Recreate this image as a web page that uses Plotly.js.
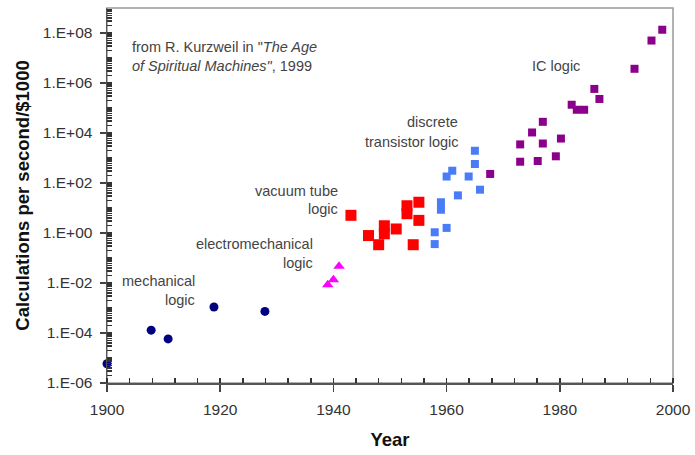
<!DOCTYPE html>
<html>
<head>
<meta charset="utf-8">
<script src="https://cdn.plot.ly/plotly-3.0.1.min.js"></script>
<style>html,body{margin:0;padding:0;background:#fff}#chart{width:695px;height:455px}</style>
</head>
<body>
<div id="chart"></div>
<script>
// ---- data ----
const mechYears = [1900.0, 1907.8, 1910.8, 1918.9, 1927.9];
const mechValues = [5.9e-6, 1.3e-4, 5.8e-5, 1.1e-3, 7.3e-4];

const emYears = [1939.0, 1940.0, 1941.0];
const emValues = [0.0085, 0.0135, 0.047];

const tubeYears = [1943.1, 1946.2, 1948.0, 1949.0, 1949.0, 1951.1, 1953.0, 1953.0, 1955.1, 1955.1, 1954.1];
const tubeValues = [5.1, 0.79, 0.34, 1.95, 0.93, 1.45, 12.3, 5.9, 17, 3.2, 0.34];

const transYears = [1957.9, 1957.9, 1959.0, 1959.0, 1960.0, 1960.0, 1961.0, 1962.0, 1963.9, 1965.0, 1965.0, 1965.9];
const transValues = [1.07, 0.36, 17, 8.5, 1.6, 182, 310, 32, 182, 1950, 575, 54];

const icYears = [1967.7, 1973.0, 1973.0, 1975.1, 1976.1, 1977.0, 1977.0, 1979.3, 1980.2, 1982.1, 1983.0, 1984.3, 1986.1, 1987.0, 1993.2, 1996.2, 1998.1];
const icValues = [230, 710, 3500, 10500, 760, 28000, 3800, 1170, 6000, 135000, 85000, 85000, 580000, 230000, 3.7e6, 5.0e7, 1.35e8];

const yTickVals = [1e-6, 1e-4, 1e-2, 1, 1e2, 1e4, 1e6, 1e8];
const yTickText = ['1.E-06', '1.E-04', '1.E-02', '1.E+00', '1.E+02', '1.E+04', '1.E+06', '1.E+08'];

// label texts: [text, year, log10 value, anchor]
const labels = [
  ['from R. Kurzweil in "<i>The Age</i>', 1904.1, 7.45, 'left'],
  ['<i>of Spiritual Machines"</i>, 1999', 1904.1, 6.69, 'left'],
  ['IC logic', 1974.7, 6.69, 'left'],
  ['discrete', 1962.4, 4.45, 'right'],
  ['transistor logic', 1962.4, 3.65, 'right'],
  ['vacuum tube', 1941.2, 1.69, 'right'],
  ['logic', 1941.2, 0.97, 'right'],
  ['electromechanical', 1936.8, -0.43, 'right'],
  ['logic', 1936.8, -1.19, 'right'],
  ['mechanical', 1915.9, -1.91, 'right'],
  ['logic', 1915.9, -2.67, 'right']
];

const FONT = 'Arial, "Liberation Sans", sans-serif';

const traces = [
  {x: mechYears, y: mechValues, mode: 'markers', type: 'scatter', cliponaxis: false,
   marker: {symbol: 'circle', size: 9, color: '#000080'}},
  {x: emYears, y: emValues, mode: 'markers', type: 'scatter', cliponaxis: false,
   marker: {symbol: 'triangle-up', size: 10, color: '#FF00FF'}},
  {x: tubeYears, y: tubeValues, mode: 'markers', type: 'scatter', cliponaxis: false,
   marker: {symbol: 'square', size: 11, color: '#FF0000'}},
  {x: transYears, y: transValues, mode: 'markers', type: 'scatter', cliponaxis: false,
   marker: {symbol: 'square', size: 8, color: '#4A7CF7'}},
  {x: icYears, y: icValues, mode: 'markers', type: 'scatter', cliponaxis: false,
   marker: {symbol: 'square', size: 8, color: '#8B008B'}},
  // empty trace that carries the overlay axes used only for the minor log ticks
  {x: [], y: [], xaxis: 'x2', yaxis: 'y2', type: 'scatter', mode: 'markers', hoverinfo: 'skip'}
];

const annotations = labels.map(l => ({
  text: l[0], x: l[1], y: l[2], xref: 'x', yref: 'y',
  xanchor: l[3], yanchor: 'middle', showarrow: false,
  font: {family: FONT, size: 14.5, color: '#444'}
}));

const layout = {
  width: 695, height: 455,
  margin: {l: 107, r: 22, t: 8, b: 72},
  paper_bgcolor: '#fff', plot_bgcolor: '#fff',
  showlegend: false,
  font: {family: FONT, size: 13, color: '#333'},
  xaxis: {
    range: [1900, 2000], tickmode: 'linear', tick0: 1900, dtick: 20,
    ticks: 'outside', ticklen: 7, tickwidth: 1.5, tickcolor: '#444',
    showline: true, linecolor: '#555', linewidth: 1.5,
    showgrid: false, zeroline: false, ticklabelstandoff: 5,
    tickfont: {family: FONT, size: 15.5, color: '#333'},
    minor: {tick0: 1900, dtick: 4, ticks: 'inside', ticklen: 5, tickcolor: '#333', tickwidth: 1.5, showgrid: false},
    title: {text: '<b>Year</b>', font: {family: FONT, size: 18.5, color: '#111'}, standoff: 16}
  },
  yaxis: {
    type: 'log', range: [-6, 9], tickmode: 'array', tickvals: yTickVals, ticktext: yTickText,
    ticks: 'outside', ticklen: 6, tickwidth: 1.5, tickcolor: '#444',
    showline: true, linecolor: '#555', linewidth: 1.5,
    showgrid: false, zeroline: false, ticklabelstandoff: 4,
    tickfont: {family: FONT, size: 15.5, color: '#333'},
    title: {text: '<b>Calculations per second/$1000</b>', font: {family: FONT, size: 18.5, color: '#111'}, standoff: 8}
  },
  xaxis2: {
    overlaying: 'x', side: 'bottom', range: [1900, 2000],
    showticklabels: false, ticks: '', showline: false, showgrid: false, zeroline: false
  },
  yaxis2: {
    overlaying: 'y', side: 'left', type: 'log', range: [-6, 9], dtick: 'D1',
    ticks: 'inside', ticklen: 5, tickwidth: 1.2, tickcolor: '#333',
    showticklabels: false, showline: false, showgrid: false, zeroline: false
  },
  shapes: [
    {type: 'rect', xref: 'paper', yref: 'paper', x0: 0, x1: 1, y0: 0, y1: 1,
     line: {color: '#999', width: 1.5}, fillcolor: 'rgba(0,0,0,0)', layer: 'below'}
  ],
  annotations: annotations
};

Plotly.newPlot('chart', traces, layout, {displayModeBar: false, staticPlot: true});
</script>
</body>
</html>
